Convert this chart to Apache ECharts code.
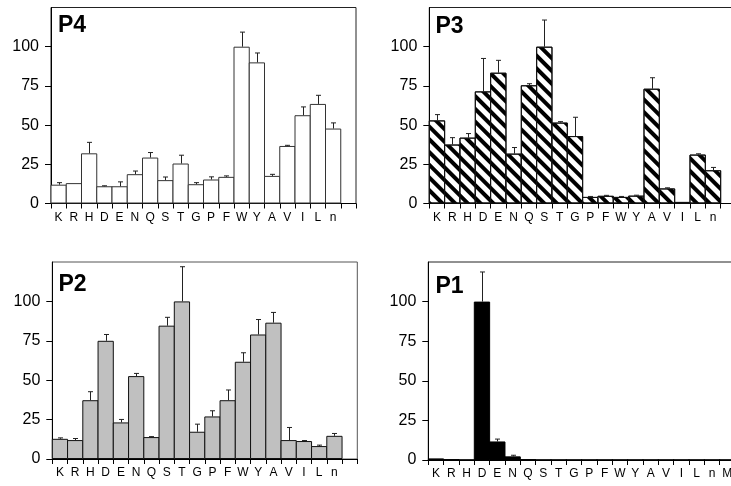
<!DOCTYPE html>
<html><head><meta charset="utf-8">
<script src="https://cdn.jsdelivr.net/npm/echarts@6/dist/echarts.min.js"></script>
<style>html,body{margin:0;padding:0;background:#fff}#c{width:731px;height:486px}</style>
</head><body><div id="c"></div>
<script>
// categories
const residues = ['K','R','H','D','E','N','Q','S','T','G','P','F','W','Y','A','V','I','L','n',''];
const residuesP1 = ['K','R','H','D','E','N','Q','S','T','G','P','F','W','Y','A','V','I','L','n','M'];
// y ticks
const yTicks = [0, 25, 50, 75, 100];
// P4
const p4Values = [12, 13, 32, 11, 11, 18.7, 29.3, 14.9, 25.5, 12.3, 15.3, 17, 100, 90, 17.6, 36.7, 56.3, 63.5, 47.8];
const p4Errors = [1.3, 0, 7, 0.3, 2.8, 2, 3.2, 2, 5.3, 1, 1.7, 0.6, 9.3, 6, 1, 0.4, 5.3, 5.5, 3.6];
// P3
const p3Values = [53, 37.6, 42, 71.5, 83.4, 31.8, 75.4, 100, 51.6, 43, 4.2, 4.9, 4.2, 5, 73.2, 9.6, 1, 31.2, 21.2];
const p3Errors = [3.7, 4.4, 2.6, 21, 7.9, 3.9, 1, 17, 0.6, 12, 0.3, 0.3, 0.3, 0.3, 7, 0.4, 0, 0.5, 1.8];
// P2
const p2Values = [12.8, 12, 37.3, 75, 23.2, 52.6, 13.9, 84.6, 100, 17.3, 27, 37.3, 61.7, 79, 86.5, 12, 11.4, 8.2, 14.7];
const p2Errors = [0.6, 1, 5.4, 4, 1.9, 1.7, 0.3, 5.3, 22, 4.8, 3.6, 6.5, 5.7, 9.5, 6.5, 8, 0.3, 0.6, 1.5];
// P1
const p1Values = [1, 0.4, 0, 100, 11.7, 2.3, 0.4, 0, 0, 0, 0, 0, 0, 0, 0, 0, 0, 0, 0, 0];
const p1Errors = [0, 0, 0, 18.7, 1.5, 0.7, 0, 0, 0, 0, 0, 0, 0, 0, 0, 0, 0, 0, 0, 0];

const FONT = "'Liberation Sans', Arial, Helvetica, sans-serif";
const panels = [
  {name:'P4', cats: residues, values: p4Values, errors: p4Errors,
   grid:{left:51, top:7.5, width:305, height:196}, title:{left:58, top:14}, border:'#222',
   item:{color:'#ffffff', borderColor:'#333', borderWidth:1}},
  {name:'P3', cats: residues, values: p3Values, errors: p3Errors,
   grid:{left:429.3, top:7.5, width:306.7, height:196}, title:{left:435.5, top:15}, border:'#222',
   item:{color:'#ffffff', borderColor:'#111', borderWidth:1,
     decal:{symbol:'rect', symbolSize:1, dashArrayX:[1,0], dashArrayY:[3.5,5], rotation:Math.PI/4, color:'#000'}}},
  {name:'P2', cats: residues, values: p2Values, errors: p2Errors,
   grid:{left:52.3, top:262, width:305, height:197}, title:{left:58.5, top:273.5}, border:'#555',
   item:{color:'#c0c0c0', borderColor:'#111', borderWidth:1}},
  {name:'P1', cats: residuesP1, values: p1Values, errors: p1Errors,
   grid:{left:428.3, top:262, width:306.7, height:198}, title:{left:435.5, top:275}, border:'#222',
   item:{color:'#000000', borderColor:'#000', borderWidth:1}}
];

const grids = [], xAxes = [], yAxes = [], series = [], titles = [];
panels.forEach((p, i) => {
  grids.push(Object.assign({show:true, borderColor:p.border, borderWidth:1, backgroundColor:'transparent',
    containLabel:false, outerBoundsMode:'none'}, p.grid));
  titles.push({text:p.name, left:p.title.left, top:p.title.top, padding:0,
    textStyle:{fontFamily:FONT, fontSize:23, fontWeight:'bold', color:'#000'}});
  // visible category axis for bars
  xAxes.push({type:'category', gridIndex:i, data:p.cats, boundaryGap:true,
    axisLine:{show:true, lineStyle:{color:'#000', width:1}},
    axisTick:{show:true, length:5, alignWithLabel:false, lineStyle:{color:'#000'}},
    axisLabel:{show:true, interval:0, margin:8, fontFamily:FONT, fontSize:12, color:'#000', hideOverlap:false},
    splitLine:{show:false}});
  // hidden twin axis for the error bars
  xAxes.push({type:'category', gridIndex:i, data:p.cats, boundaryGap:true, show:false});
  yAxes.push({type:'value', gridIndex:i, min:0, max:125, interval:25,
    axisLine:{show:true, lineStyle:{color:'#000', width:1}},
    axisTick:{show:true, length:6, customValues:yTicks, lineStyle:{color:'#000'}},
    axisLabel:{show:true, margin:12, fontFamily:FONT, fontSize:16, color:'#000', customValues:yTicks,
      formatter: v => (yTicks.indexOf(v) >= 0 ? String(v) : '')},
    splitLine:{show:false}});
  series.push({type:'bar', xAxisIndex:2 * i, yAxisIndex:i, data:p.values,
    barWidth: p.grid.width / p.cats.length + 1,
    itemStyle:p.item, emphasis:{disabled:true}, silent:true, animation:false});
  series.push({type:'custom', xAxisIndex:2 * i + 1, yAxisIndex:i, z:5, silent:true, animation:false,
    data:p.values.map((v, k) => [k, v, p.errors[k] || 0]),
    renderItem:(params, api) => {
      const x = api.value(0), v = api.value(1), e = api.value(2);
      if (!(e > 0)) return null;
      const a = api.coord([x, v]), b = api.coord([x, v + e]);
      const cx = Math.round(a[0]) + 0.5;
      const st = {stroke:'#222', lineWidth:1};
      return {type:'group', children:[
        {type:'line', shape:{x1:cx, y1:a[1], x2:cx, y2:b[1]}, style:st},
        {type:'line', shape:{x1:cx - 2.5, y1:b[1], x2:cx + 2.5, y2:b[1]}, style:st}
      ]};
    }});
});

const chart = echarts.init(document.getElementById('c'), null, {renderer:'canvas'});
chart.setOption({animation:false, backgroundColor:'#fff', title:titles, grid:grids, xAxis:xAxes, yAxis:yAxes, series:series});
</script>
</body></html>
